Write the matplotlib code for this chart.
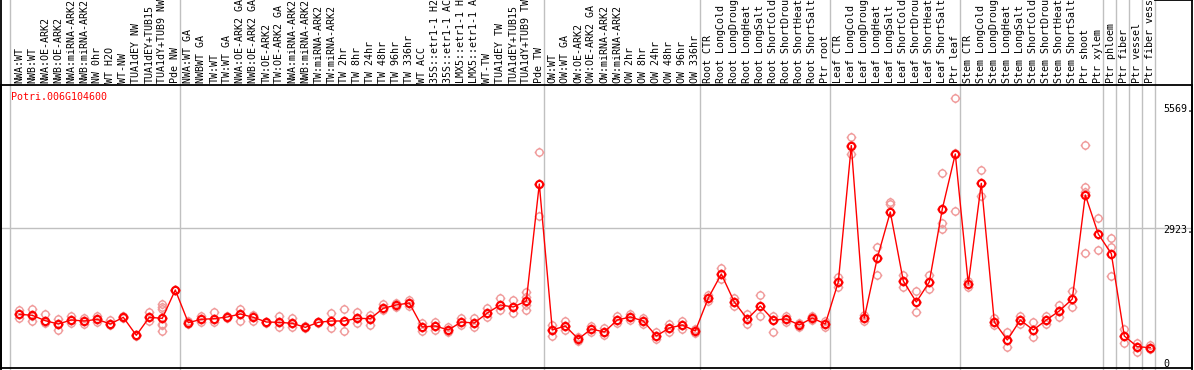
import matplotlib
matplotlib.use('Agg')
import matplotlib.pyplot as plt
from matplotlib.transforms import blended_transform_factory
from matplotlib.path import Path
import numpy as np

# %%
gene = 'Potri.006G104600'

labels = [
    'NWA:WT', 'NWB:WT', 'NWA:OE-ARK2', 'NWB:OE-ARK2', 'NWA:miRNA-ARK2', 'NWB:miRNA-ARK2',
    'NW 0hr', 'WT H2O', 'WT-NW', 'TUA1dEY NW', 'TUA1dEY+TUB15', 'TUA1dY+TUB9 NW', 'Pde NW',
    'NWA:WT GA', 'NWBWT GA', 'TW:WT', 'TW:WT GA', 'NWA:OE-ARK2 GA', 'NWB:OE-ARK2 GA',
    'TW:OE-ARK2', 'TW:OE-ARK2 GA', 'NWA:miRNA-ARK2', 'NWB:miRNA-ARK2', 'TW:miRNA-ARK2',
    'TW:miRNA-ARK2', 'TW 2hr', 'TW 8hr', 'TW 24hr', 'TW 48hr', 'TW 96hr', 'TW 336hr',
    'WT ACC', '35S::etr1-1 H2', '35S::etr1-1 AC', 'LMX5::etr1-1 H', 'LMX5::etr1-1 A',
    'WT-TW', 'TUA1dEY TW', 'TUA1dEY+TUB15', 'TUA1dY+TUB9 TW', 'Pde TW',
    'OW:WT', 'OW:WT GA', 'OW:OE-ARK2', 'OW:OE-ARK2 GA', 'OW:miRNA-ARK2', 'OW:miRNA-ARK2',
    'OW 2hr', 'OW 8hr', 'OW 24hr', 'OW 48hr', 'OW 96hr', 'OW 336hr',
    'Root CTR', 'Root LongCold', 'Root LongDroug', 'Root LongHeat', 'Root LongSalt',
    'Root ShortCold', 'Root ShortDrou', 'Root ShortHeat', 'Root ShortSalt', 'Ptr root',
    'Leaf CTR', 'Leaf LongCold', 'Leaf LongDroug', 'Leaf LongHeat', 'Leaf LongSalt',
    'Leaf ShortCold', 'Leaf ShortDrou', 'Leaf ShortHeat', 'Leaf ShortSalt', 'Ptr leaf',
    'Stem CTR', 'Stem LongCold', 'Stem LongDroug', 'Stem LongHeat', 'Stem LongSalt',
    'Stem ShortCold', 'Stem ShortDrou', 'Stem ShortHeat', 'Stem ShortSalt', 'Ptr shoot',
    'Ptr xylem', 'Ptr phloem', 'Ptr fiber', 'Ptr vessel', 'Ptr fiber vess',
]

# last column index of each group (a grey separator follows it)
group_ends = [12, 40, 52, 62, 72, 83, 84, 85, 86, 87]

means = [
    1040, 1018, 900, 828, 916, 894, 930, 828, 974, 582, 974, 952, 1570,
    857, 930, 945, 981, 1046, 974, 872, 865, 843, 756, 865, 894, 894, 952, 945,
    1170, 1243, 1286, 763, 785, 698, 872, 850, 1068, 1243, 1199, 1330, 3880,
    698, 785, 501, 720, 654, 916, 981, 894, 567, 741, 807, 676,
    1395, 1918, 1308, 937, 1221, 916, 937, 807, 959, 828,
    1744, 4719, 959, 2267, 3270, 1766, 1308, 1744, 3335, 4535,
    1700, 3896, 872, 480, 916, 698, 916, 1112, 1373, 3641, 2790,
    2362, 567, 334, 312,
]

replicates = [
    [1134, 1040, 966], [1149, 1009, 900], [1040, 900, 843], [937, 828, 698],
    [1009, 916, 843], [966, 894, 822], [1009, 930, 878], [916, 828, 800],
    [1009, 974, 952], [590, 582, 575], [1090, 974, 894],
    [1258, 1192, 1149, 952, 828, 800, 669], [1580, 1570, 1560],
    [894, 857, 822], [1003, 930, 878], [1083, 945, 865], [1003, 981, 952],
    [1162, 1046, 900], [1018, 974, 900], [878, 872, 843], [1003, 865, 770],
    [952, 843, 756], [785, 756, 734], [878, 865, 843], [1075, 894, 734],
    [1149, 894, 676], [1083, 952, 843], [1018, 945, 807], [1258, 1170, 1134],
    [1293, 1243, 1206], [1351, 1286, 1221], [850, 763, 676], [872, 785, 698],
    [763, 698, 654], [959, 872, 807], [959, 850, 763], [1177, 1068, 981],
    [1395, 1243, 1134], [1351, 1199, 1068], [1530, 1420, 1330, 1250, 1140],
    [4585, 3880, 3183],
    [807, 698, 567], [900, 785, 700], [545, 501, 460], [785, 720, 655],
    [740, 654, 580], [1000, 916, 850], [1050, 981, 920], [960, 894, 830],
    [650, 567, 500], [830, 741, 660], [900, 807, 720], [720, 676, 630],
    [1460, 1395, 1330], [2050, 1918, 1800], [1400, 1308, 1220], [1050, 937, 830],
    [1450, 1221, 1000], [1000, 916, 650], [1000, 937, 870], [850, 807, 760],
    [1000, 959, 920], [900, 828, 760],
    [1850, 1744, 1640], [4898, 4730, 4528], [1030, 959, 890], [2500, 2267, 1900],
    [3494, 3444, 3263], [1900, 1766, 1630], [1550, 1308, 1100],
    [1900, 1744, 1600], [4113, 3335, 3037, 2900], [5749, 4563, 3292],
    [1760, 1700, 1640], [4186, 3896, 3619], [950, 872, 800], [650, 480, 320],
    [1000, 916, 830], [870, 698, 550], [1000, 916, 830], [1250, 1112, 980],
    [1550, 1373, 1200], [4730, 3815, 3706, 2376], [3139, 2790, 2442],
    [2703, 2507, 1875], [719, 567, 421], [421, 334, 211], [364, 312, 277],
]

ytick_vals = [5569, 2923, 0]
ytick_text = ['5569.', '2923.', '0']

# %%
W, H = 1194, 370
fig = plt.figure(figsize=(W / 100, H / 100), dpi=100)
ax = fig.add_axes([1 / W, 2 / H, 1191 / W, 283 / H])

x = np.arange(len(labels))
ax.set_xlim((1 - 19.3) / 13, (1192 - 19.3) / 13)
ax.set_ylim(-131, 6039)
ax.set_xticks([])
ax.set_yticks([])
for s in ax.spines.values():
    s.set_color('black')
    s.set_linewidth(1.3)

# circle marker with small ticks
circ = Path.unit_circle()
ticks = Path([(0, 1), (0, 1.35), (0, -1), (0, -1.35), (1, 0), (1.35, 0), (-1, 0), (-1.35, 0)],
             [Path.MOVETO, Path.LINETO] * 4)
marker = Path.make_compound_path(circ, ticks)

grey = '#c0c0c0'
fig_tr = blended_transform_factory(ax.transData, fig.transFigure)

# separators through header and plot
sep_x = [-0.72] + [e + 0.385 for e in group_ends]
for sx in sep_x:
    ax.plot([sx, sx], [0, 1], transform=fig_tr, color=grey, lw=1.0, clip_on=False, zorder=0)
ax.axhline(ytick_vals[1], color=grey, lw=1.0, zorder=0)

# top-right box edges
ax.plot([sep_x[-1], ax.get_xlim()[1]], [0.999, 0.999], transform=fig_tr, color='black',
        lw=1.3, clip_on=False)
ax.plot([ax.get_xlim()[1]] * 2, [0, 1], transform=fig_tr, color='black', lw=1.3, clip_on=False)
ax.plot([ax.get_xlim()[0]] * 2, [0, 1], transform=fig_tr, color='black', lw=1.3, clip_on=False)

# replicates
for i, reps in enumerate(replicates):
    ax.plot([i] * len(reps), reps, linestyle='none', marker=marker, markersize=7,
            markerfacecolor='none', markeredgecolor='#f09999', markeredgewidth=1.0, zorder=2)

# mean line
ax.plot(x, means, color='#ff0000', lw=1.0, marker=marker, markersize=7,
        markerfacecolor='none', markeredgecolor='#ff0000', markeredgewidth=1.5, zorder=3)

mono = 'DejaVu Sans Mono'
for i, lab in enumerate(labels):
    ax.text(i, (H - 83) / H, lab, transform=fig_tr, rotation=90, ha='center', va='bottom',
            fontsize=7.2, family=mono, clip_on=False)

for v, t in zip(ytick_vals, ytick_text):
    ax.text((1163 - 19.3) / 13, v + 60, t, ha='left', va='top', fontsize=7.2, family=mono)

ax.text(10 / 1191, 1 - 12 / 283, gene, transform=ax.transAxes, color='red', ha='left',
        va='center', fontsize=7.2, family=mono)

fig.savefig('out.png', dpi=100)
